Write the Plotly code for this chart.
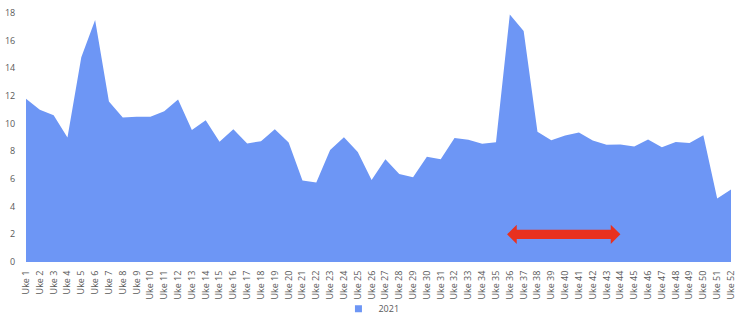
import plotly.graph_objects as go

weeks = [f"Uke {i}" for i in range(1, 53)]
values_2021 = [11.8, 11.0, 10.6, 9.0, 14.8, 17.5, 11.6, 10.45, 10.5, 10.5,
               10.9, 11.75, 9.55, 10.25, 8.7, 9.6, 8.57, 8.73, 9.6, 8.64,
               5.9, 5.75, 8.1, 9.02, 7.95, 5.92, 7.43, 6.37, 6.13, 7.6,
               7.43, 8.97, 8.83, 8.54, 8.66, 17.9, 16.7, 9.41, 8.81, 9.15,
               9.36, 8.78, 8.47, 8.49, 8.35, 8.86, 8.3, 8.68, 8.61, 9.17,
               4.59, 5.24]
series_name = "2021"
y_ticks = [0, 2, 4, 6, 8, 10, 12, 14, 16, 18]

# arrow annotation (data coordinates)
arrow_x0, arrow_x1, arrow_y = 35.8, 44.0, 2.0
head_len, shaft_half, head_half = 0.7, 0.33, 0.7

x_pos = list(range(1, len(weeks) + 1))
area_color = "#6D96F5"

fig = go.Figure()
fig.add_trace(go.Scatter(
    x=x_pos, y=values_2021, name=series_name, mode="none",
    fill="tozeroy", fillcolor=area_color, showlegend=False,
))
# legend entry with a square symbol
fig.add_trace(go.Scatter(
    x=[None], y=[None], name=series_name, mode="markers",
    marker=dict(symbol="square", size=7, color=area_color),
    showlegend=True,
))

ax = [arrow_x0, arrow_x0 + head_len, arrow_x0 + head_len, arrow_x1 - head_len,
      arrow_x1 - head_len, arrow_x1, arrow_x1 - head_len, arrow_x1 - head_len,
      arrow_x0 + head_len, arrow_x0 + head_len, arrow_x0]
ay = [arrow_y, arrow_y + head_half, arrow_y + shaft_half, arrow_y + shaft_half,
      arrow_y + head_half, arrow_y, arrow_y - head_half, arrow_y - shaft_half,
      arrow_y - shaft_half, arrow_y - head_half, arrow_y]
fig.add_trace(go.Scatter(
    x=ax, y=ay, mode="none", fill="toself", fillcolor="#E8311F",
    showlegend=False, hoverinfo="skip",
))

fig.update_layout(
    width=747, height=320,
    margin=dict(l=26, r=16, t=13, b=58, autoexpand=False),
    plot_bgcolor="white", paper_bgcolor="white",
    font=dict(family="Open Sans", size=9, color="#595959"),
    xaxis=dict(
        range=[1, 52], tickmode="array", tickvals=x_pos, ticktext=weeks,
        tickangle=-90, showgrid=False, zeroline=False, showline=False,
        ticks="outside", ticklen=4, tickcolor="rgba(0,0,0,0)",
        tickfont=dict(size=9, color="#595959"), automargin=False,
    ),
    yaxis=dict(
        range=[0, 18], tickmode="array", tickvals=y_ticks, showgrid=False,
        zeroline=False, showline=False,
        ticks="outside", ticklen=8, tickcolor="rgba(0,0,0,0)",
        tickfont=dict(size=9, color="#595959"), automargin=False,
    ),
    legend=dict(orientation="h", x=0.49, xanchor="center",
                yref="container", y=0.035, yanchor="middle",
                bgcolor="rgba(0,0,0,0)",
                font=dict(size=9, color="#595959"), itemwidth=30),
)

fig.write_html("out.html")
